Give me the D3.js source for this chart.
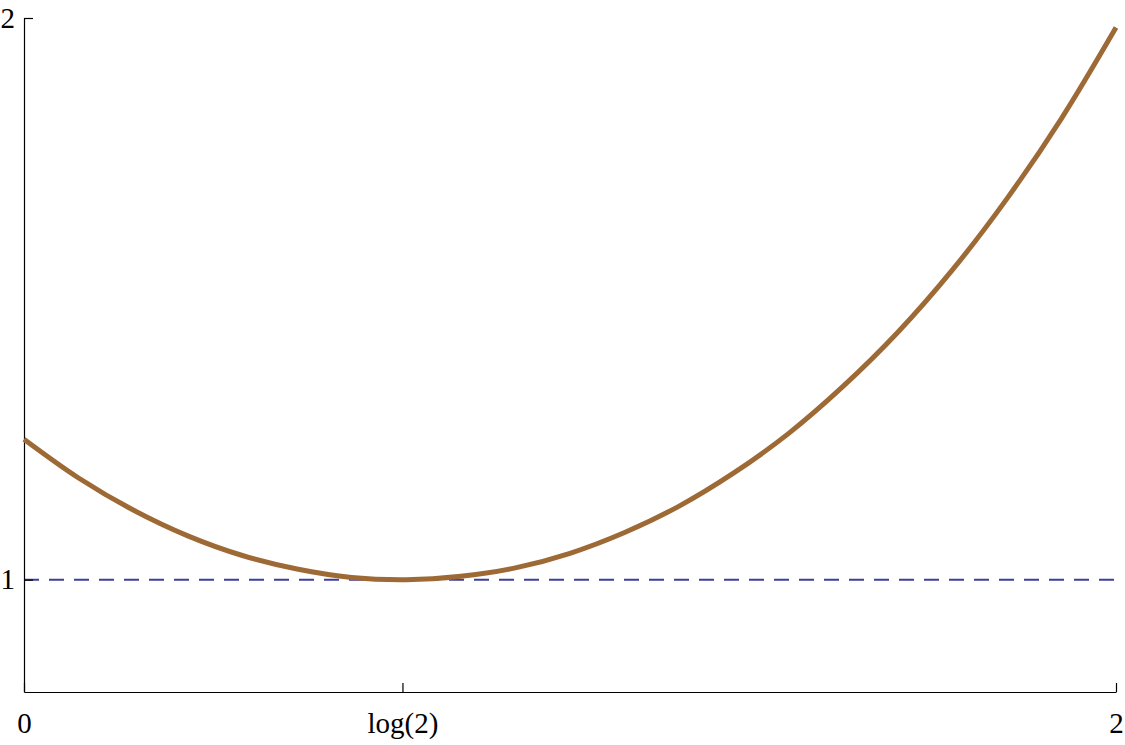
<!DOCTYPE html>
<html>
<head>
<meta charset="utf-8">
<script src="https://cdn.jsdelivr.net/npm/d3@7"></script>
<style>
  body { margin: 0; background: #fff; }
  .axis text { font-family: "Liberation Serif", "DejaVu Serif", serif; font-size: 29px; fill: #000; }
  .axis path, .axis line { stroke: #000; stroke-width: 1.2; }
</style>
</head>
<body>
<div id="chart"></div>
<script>
// curve samples
const xs = [0, 0.1, 0.2, 0.3, 0.4, 0.5, 0.6, 0.7, 0.8, 0.9, 1.0,
            1.1, 1.2, 1.3, 1.4, 1.5, 1.6, 1.7, 1.8, 1.9, 2.0];
const ys = [1.250, 1.181, 1.124, 1.078, 1.043, 1.019, 1.004, 1.000, 1.006, 1.021, 1.047,
            1.084, 1.131, 1.190, 1.260, 1.344, 1.440, 1.551, 1.678, 1.821, 1.983];
const baseline = 1;
const xTicks = [0, Math.LN2, 2];
const xTickLabels = ["0", "log(2)", "2"];
const yTicks = [1, 2];

const W = 1125, H = 745;
const margin = { top: 18, right: 9, bottom: 53, left: 24 };

const svg = d3.select("#chart")
    .append("svg")
    .attr("width", W)
    .attr("height", H);

const x = d3.scaleLinear()
    .domain([0, 2])
    .range([margin.left, W - margin.right]);
const y = d3.scaleLinear()
    .domain([0.8, 2])
    .range([H - margin.bottom, margin.top]);

// dashed reference line at y = 1
svg.append("line")
    .attr("x1", x(0))
    .attr("x2", x(2))
    .attr("y1", y(baseline))
    .attr("y2", y(baseline))
    .attr("stroke", "#3f3f9a")
    .attr("stroke-width", 2)
    .attr("stroke-dasharray", "15,10");

// axes
svg.append("g")
    .attr("class", "axis")
    .attr("transform", `translate(0,${y(0.8)})`)
    .call(d3.axisBottom(x)
        .tickValues(xTicks)
        .tickFormat((d, i) => xTickLabels[i])
        .tickSizeInner(-9)
        .tickSizeOuter(0)
        .tickPadding(20));

svg.append("g")
    .attr("class", "axis")
    .attr("transform", `translate(${x(0)},0)`)
    .call(d3.axisLeft(y)
        .tickValues(yTicks)
        .tickFormat(d3.format("d"))
        .tickSizeInner(-9)
        .tickSizeOuter(0)
        .tickPadding(9));

// the curve
const pts = xs.map((v, i) => [v, ys[i]]);
const line = d3.line()
    .x(d => x(d[0]))
    .y(d => y(d[1]))
    .curve(d3.curveCatmullRom);

svg.append("path")
    .datum(pts)
    .attr("fill", "none")
    .attr("stroke", "#9d6a36")
    .attr("stroke-width", 5)
    .attr("d", line);
</script>
</body>
</html>
